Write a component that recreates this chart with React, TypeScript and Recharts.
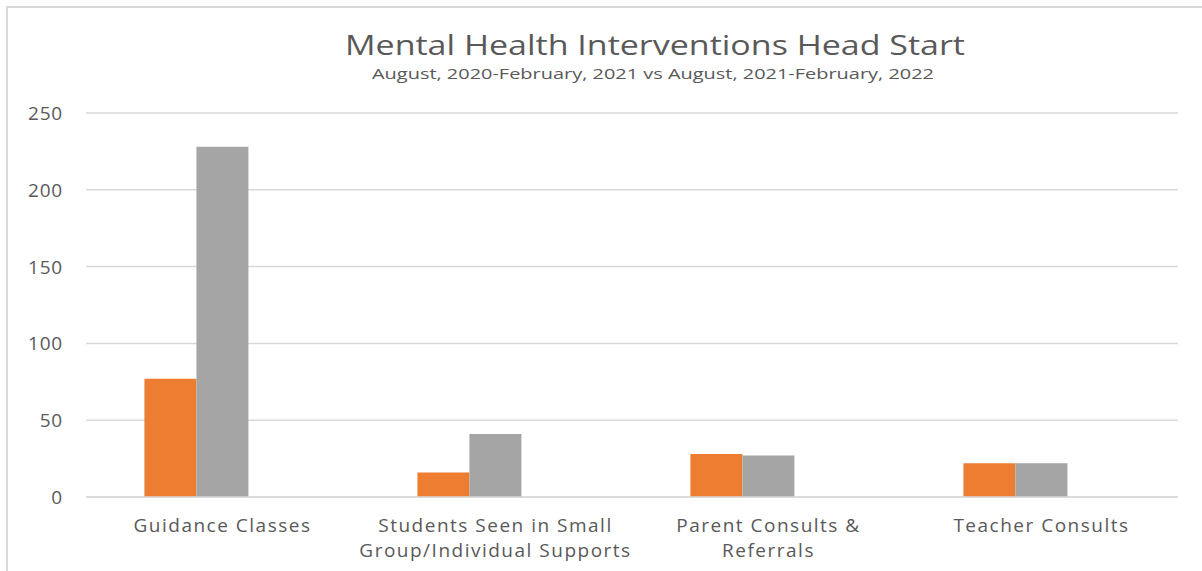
import React from "react";
import { BarChart, Bar, XAxis, YAxis, CartesianGrid } from "recharts";

// categories, "\n" marks where the label wraps
const categories = [
  "Guidance Classes",
  "Students Seen in Small\nGroup/Individual Supports",
  "Parent Consults &\nReferrals",
  "Teacher Consults",
];
const period2020 = [77, 16, 28, 22];
const period2021 = [228, 41, 27, 22];
// third series in the sheet is empty, it still takes a slot in each group
const emptySeries = [0, 0, 0, 0];
const yTicks = [0, 50, 100, 150, 200, 250];

const chartData = categories.map((name, i) => ({
  name,
  p2020: period2020[i],
  p2021: period2021[i],
  empty: emptySeries[i],
}));

const TEXT = "#595959";
const FONT = "'Open Sans', sans-serif";

function CategoryTick({ x, y, payload }: any) {
  const lines = String(payload.value).split("\n");
  return (
    <g>
      {lines.map((line: string, i: number) => (
        <text
          key={i}
          x={x}
          y={y + 27 + i * 25}
          textAnchor="middle"
          fill={TEXT}
          fontSize={19}
          fontFamily={FONT}
          letterSpacing={1.5}
        >
          {line}
        </text>
      ))}
    </g>
  );
}

function ValueTick({ x, y, payload }: any) {
  return (
    <text x={x} y={y + 7} textAnchor="end" fill={TEXT} fontSize={19} fontFamily={FONT} letterSpacing={0.8}>
      {payload.value}
    </text>
  );
}

export default function App() {
  return (
    <div style={{ position: "absolute", left: 0, top: 0, width: 1202, height: 571, background: "#fff", overflow: "hidden" }}>
      <div
        style={{
          position: "absolute",
          left: 6,
          top: 6,
          width: 1300,
          height: 700,
          borderTop: "2px solid #d9d9d9",
          borderLeft: "2px solid #d9d9d9",
        }}
      />
      <svg width={1202} height={100} style={{ position: "absolute", left: 0, top: 0 }}>
        <text
          x={655}
          y={55}
          textAnchor="middle"
          fill={TEXT}
          fontSize={28}
          fontFamily={FONT}
          textLength={620}
          lengthAdjust="spacingAndGlyphs"
        >
          Mental Health Interventions Head Start
        </text>
        <text
          x={653}
          y={79}
          textAnchor="middle"
          fill={TEXT}
          fontSize={15}
          fontFamily={FONT}
          textLength={562}
          lengthAdjust="spacingAndGlyphs"
        >
          August, 2020-February, 2021 vs  August, 2021-February, 2022
        </text>
      </svg>
      <div style={{ position: "absolute", left: 0, top: 0 }}>
        <BarChart
          width={1202}
          height={571}
          data={chartData}
          margin={{ top: 113, right: 24, bottom: 14, left: 0 }}
          barCategoryGap="21.4%"
          barGap={0}
        >
          <CartesianGrid vertical={false} stroke="#d9d9d9" strokeWidth={1.5} />
          <XAxis
            dataKey="name"
            interval={0}
            height={60}
            tickLine={false}
            axisLine={{ stroke: "#d9d9d9", strokeWidth: 1.5 }}
            tick={<CategoryTick />}
          />
          <YAxis
            width={86}
            domain={[0, 250]}
            ticks={yTicks}
            axisLine={false}
            tickLine={false}
            tick={<ValueTick />}
            tickSize={0}
            tickMargin={23}
          />
          <Bar dataKey="p2020" fill="#ed7d31" isAnimationActive={false} />
          <Bar dataKey="p2021" fill="#a5a5a5" isAnimationActive={false} />
          <Bar dataKey="empty" fill="#ffc000" isAnimationActive={false} />
        </BarChart>
      </div>
    </div>
  );
}
